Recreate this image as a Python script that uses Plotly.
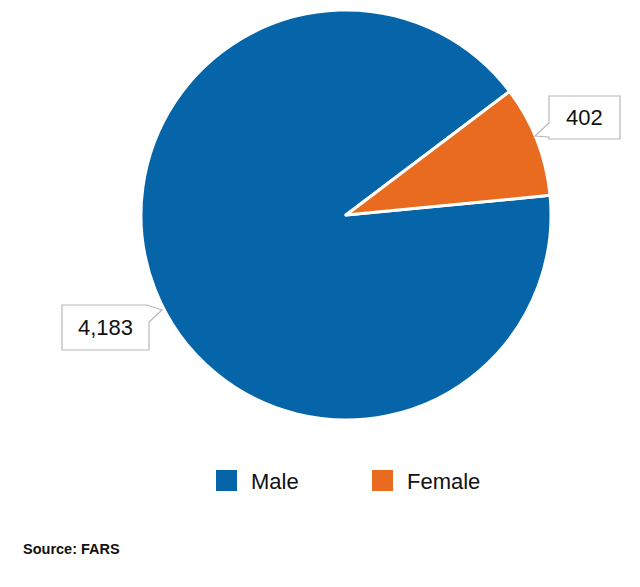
import plotly.graph_objects as go

labels = ["Male", "Female"]
values = [4183, 402]
value_text = ["4,183", "402"]
colors = ["#0565a8", "#e86b1f"]
source = "Source: FARS"

W, H = 640, 587
def px(x): return x / W
def py(y): return 1 - y / H

fig = go.Figure()
fig.add_trace(go.Pie(
    labels=labels, values=values, sort=False, direction="clockwise", rotation=84.5,
    marker=dict(colors=colors, line=dict(color="white", width=3)),
    textinfo="none", hoverinfo="label+value", showlegend=False,
    domain=dict(x=[px(141), px(551)], y=[py(420), py(10)]),
))

shapes = []
annotations = []

def callout(path_pts):
    d = "M " + " L ".join(f"{px(x)},{py(y)}" for x, y in path_pts) + " Z"
    return dict(type="path", path=d, xref="paper", yref="paper",
                line=dict(color="#b8b8b8", width=1.2), fillcolor="white", layer="above")

shapes.append(callout([(549, 96), (620, 96), (620, 139), (549, 139), (549, 137), (535, 136), (549, 123)]))
shapes.append(callout([(62, 305), (147, 305), (162, 310), (149, 322), (149, 350), (62, 350)]))

annotations.append(dict(x=px(584.5), y=py(117.5), text=value_text[1], showarrow=False,
                        xref="paper", yref="paper", xanchor="center", yanchor="middle",
                        font=dict(size=22, color="#111")))
annotations.append(dict(x=px(105.5), y=py(327.5), text=value_text[0], showarrow=False,
                        xref="paper", yref="paper", xanchor="center", yanchor="middle",
                        font=dict(size=22, color="#111")))

leg_x = [216, 372]
for i, lab in enumerate(labels):
    x0 = leg_x[i]
    shapes.append(dict(type="rect", xref="paper", yref="paper",
                       x0=px(x0), x1=px(x0 + 21), y0=py(491), y1=py(470),
                       fillcolor=colors[i], line=dict(width=0)))
    annotations.append(dict(x=px(x0 + 33), y=py(481), text=lab, showarrow=False,
                            xref="paper", yref="paper", xanchor="left", yanchor="middle",
                            font=dict(size=22, color="#111")))

annotations.append(dict(x=px(21), y=py(549), text="<b>" + source + "</b>", showarrow=False,
                        xref="paper", yref="paper", xanchor="left", yanchor="middle",
                        font=dict(size=14.5, color="#111")))

fig.update_layout(
    width=W, height=H, margin=dict(l=0, r=0, t=0, b=0),
    paper_bgcolor="white", plot_bgcolor="white",
    font=dict(family="Liberation Sans, Arial, sans-serif"),
    shapes=shapes, annotations=annotations, showlegend=False,
)
fig.write_html("out.html", config={"displayModeBar": False},
               post_script="document.body.style.margin='0';")
